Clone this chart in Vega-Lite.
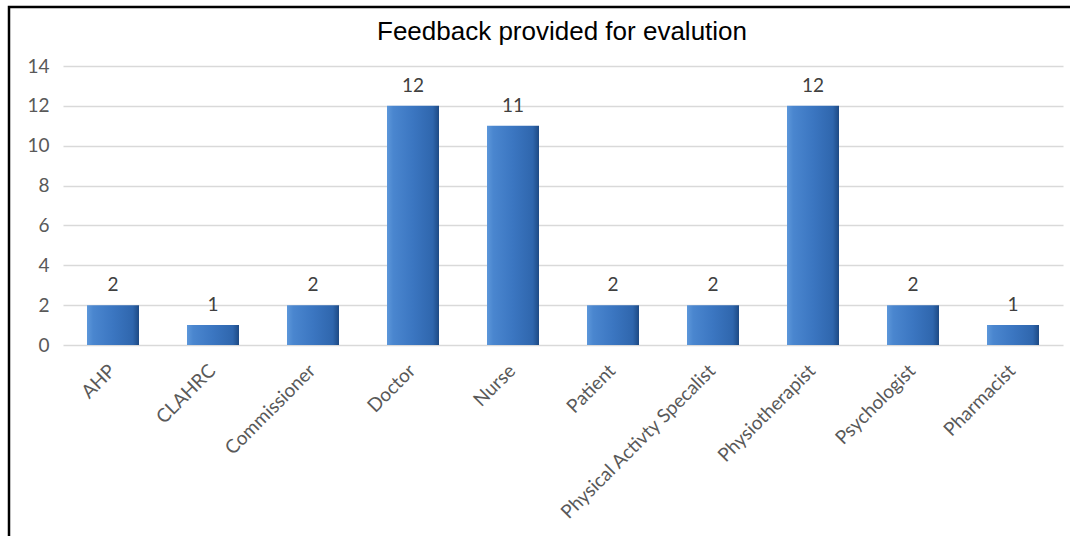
{
  "$schema": "https://vega.github.io/schema/vega-lite/v6.json",
  "width": 1070,
  "height": 535,
  "autosize": {"type": "none"},
  "padding": {"left": 9, "top": 7, "right": 0, "bottom": 0},
  "background": "white",
  "title": {
    "text": "Feedback provided for evalution",
    "font": "Liberation Sans",
    "fontSize": 26,
    "fontWeight": "normal",
    "color": "#000000",
    "anchor": "middle",
    "dx": 18,
    "offset": -38
  },
  "config": {
    "view": {"stroke": "#000000", "strokeWidth": 2.5},
    "axis": {"labelFont": "Lato", "labelColor": "#595959"}
  },
  "data": {
    "values": [
      {"role": "AHP", "count": 2},
      {"role": "CLAHRC", "count": 1},
      {"role": "Commissioner", "count": 2},
      {"role": "Doctor", "count": 12},
      {"role": "Nurse", "count": 11},
      {"role": "Patient", "count": 2},
      {"role": "Physical Activty Specalist", "count": 2},
      {"role": "Physiotherapist", "count": 12},
      {"role": "Psychologist", "count": 2},
      {"role": "Pharmacist", "count": 1}
    ]
  },
  "encoding": {
    "x": {
      "field": "role",
      "type": "nominal",
      "sort": null,
      "scale": {"range": [54, 1054], "paddingInner": 0.48, "paddingOuter": 0.24},
      "axis": {
        "title": null,
        "labelAngle": -45,
        "offset": -197,
        "domain": false,
        "ticks": false,
        "labelFontSize": 19,
        "labelPadding": 16,
        "labelOffset": -7,
        "labelLimit": 400
      }
    },
    "y": {
      "field": "count",
      "type": "quantitative",
      "scale": {"domain": [0, 14], "range": [338, 59], "nice": false},
      "axis": {
        "title": null,
        "values": [0, 2, 4, 6, 8, 10, 12, 14],
        "offset": -54,
        "domain": false,
        "ticks": false,
        "grid": true,
        "gridColor": "#d9d9d9",
        "gridWidth": 1.5,
        "labelFontSize": 19,
        "labelPadding": 14
      }
    }
  },
  "layer": [
    {
      "mark": {
        "type": "bar",
        "fill": {
          "gradient": "linear",
          "x1": 0, "x2": 1, "y1": 0, "y2": 0,
          "stops": [
            {"offset": 0, "color": "#5d97da"},
            {"offset": 0.12, "color": "#4a86cf"},
            {"offset": 0.5, "color": "#3b76c1"},
            {"offset": 0.88, "color": "#2f66ad"},
            {"offset": 1, "color": "#1e4a84"}
          ]
        }
      }
    },
    {
      "mark": {
        "type": "text",
        "baseline": "alphabetic",
        "dy": -14,
        "font": "Lato",
        "fontSize": 19,
        "color": "#404040"
      },
      "encoding": {"text": {"field": "count", "type": "quantitative"}}
    }
  ]
}
